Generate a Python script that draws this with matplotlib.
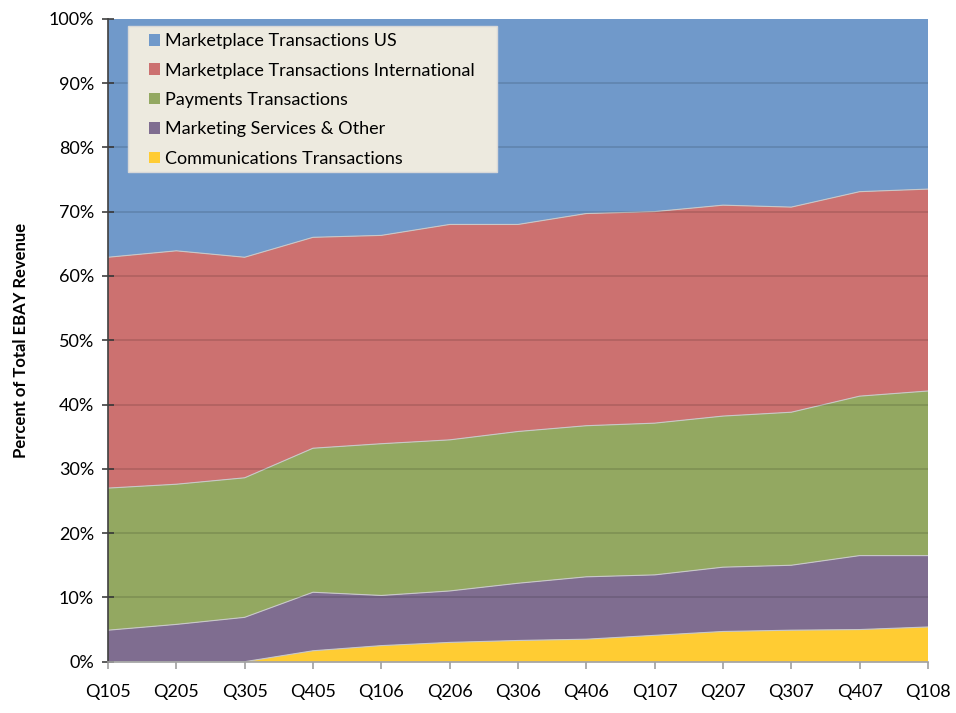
import matplotlib
matplotlib.use("Agg")
import matplotlib.pyplot as plt
from matplotlib.patches import Patch, Rectangle
import numpy as np

quarters = ["Q105", "Q205", "Q305", "Q405", "Q106", "Q206", "Q306",
            "Q406", "Q107", "Q207", "Q307", "Q407", "Q108"]
communications = [0, 0, 0, 1.7, 2.5, 3.0, 3.3, 3.5, 4.1, 4.7, 4.9, 5.0, 5.4]
marketing = [4.9, 5.8, 6.9, 9.1, 7.8, 8.0, 8.9, 9.7, 9.4, 10.0, 10.1, 11.5, 11.1]
payments = [22.1, 21.8, 21.7, 22.4, 23.6, 23.5, 23.6, 23.5, 23.6, 23.5, 23.8, 24.8, 25.6]
international = [35.9, 36.3, 34.3, 32.8, 32.4, 33.5, 32.2, 33.0, 32.9, 32.8, 31.9, 31.8, 31.4]
us = [37.1, 36.1, 37.1, 34.0, 33.7, 32.0, 32.0, 30.3, 30.0, 29.0, 29.3, 26.9, 26.5]

series_names = ["Communications Transactions", "Marketing Services & Other",
                "Payments Transactions", "Marketplace Transactions International",
                "Marketplace Transactions US"]
colors = ["#FFCC33", "#7F6D90", "#93A861", "#CC7170", "#7099CA"]

plt.rcParams['font.family'] = ['Lato', 'DejaVu Sans']

fig = plt.figure(figsize=(9.56, 7.13), dpi=100)
ax = fig.add_axes([108/956, 1 - 661.7/713, (928 - 108)/956, (661.7 - 18.7)/713])

x = np.arange(len(quarters))
data = [communications, marketing, payments, international, us]
ax.stackplot(x, *data, colors=colors, linewidth=0, zorder=1)
cum = np.cumsum(np.array(data, dtype=float), axis=0)
for row in cum[:-1]:
    ax.plot(x, row, color="#C8C8C8", linewidth=0.8, zorder=1.5)

ax.set_xlim(0, len(quarters) - 1)
ax.set_ylim(0, 100)
ax.set_yticks(np.arange(0, 101, 10))
ax.set_yticklabels([f"{v}%" for v in range(0, 101, 10)], fontsize=13)
ax.set_xticks(x)
ax.set_xticklabels(quarters, fontsize=13)

for v in range(10, 100, 10):
    ax.axhline(v, color="black", alpha=0.13, linewidth=1.3, zorder=2)

for side in ["top", "right"]:
    ax.spines[side].set_visible(False)
ax.spines["left"].set_color("#404040")
ax.spines["left"].set_linewidth(1.2)
ax.spines["bottom"].set_color("#A0A0A0")
ax.spines["bottom"].set_linewidth(1.2)
ax.tick_params(axis="y", direction="inout", length=8, color="#404040", width=1.2, pad=6)
ax.tick_params(axis="x", direction="out", length=5, color="#A0A0A0", width=1.2, pad=11)

ax.set_ylabel("Percent of Total EBAY Revenue", fontsize=12, fontweight="bold", labelpad=14)

# legend background box
box = Rectangle((20/820, 1 - 153.3/643), 369/820, 146/643, transform=ax.transAxes,
                facecolor="#EDEADF", edgecolor="#D8D8D8", linewidth=1, zorder=4)
ax.add_patch(box)

handles = [Patch(facecolor=c, edgecolor="none") for c in colors[::-1]]
leg = ax.legend(handles, series_names[::-1], loc="upper left",
                bbox_to_anchor=(41/820, 1 - 14.5/643), fontsize=13,
                frameon=False, handlelength=0.6, handleheight=0.6,
                handletextpad=0.3, labelspacing=0.74, borderpad=0,
                borderaxespad=0)
leg.set_zorder(5)

fig.savefig("out.png", dpi=100)
